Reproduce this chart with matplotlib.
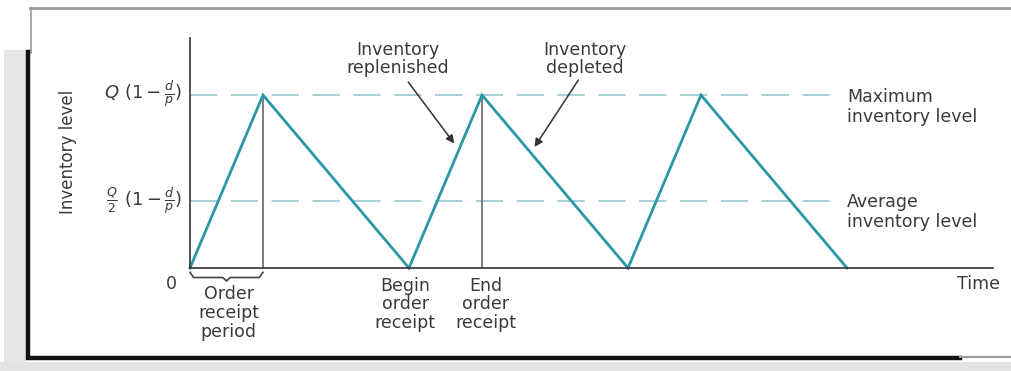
import matplotlib.pyplot as plt
from matplotlib.lines import Line2D
from matplotlib.patches import Rectangle

plt.rcParams['font.family'] = ['DejaVu Sans']

# inventory level over time (production rise, then depletion)
times = [0, 1, 3, 4, 6, 7, 9]
levels = [0, 1, 0, 1, 0, 1, 0]
max_level = 1.0
avg_level = 0.39
receipt_start = 3
receipt_end = 4
dash_end = 8.9

fig = plt.figure(figsize=(10.11, 3.71), dpi=100)

# frame decoration around the figure
W, H = 1011, 371
def fx(px): return px / W
def fy(py): return 1 - py / H
fig.add_artist(Rectangle((fx(4), 0), fx(22) - fx(0), fy(50), transform=fig.transFigure,
                         color='#e6e6e6', lw=0))
fig.add_artist(Rectangle((0, 0), 1, fy(362), transform=fig.transFigure,
                         color='#e3e3e3', lw=0))
fig.add_artist(Line2D([fx(30), 1], [fy(8), fy(8)], transform=fig.transFigure,
                      color='#9a9a9a', lw=2))
fig.add_artist(Line2D([fx(31), fx(31)], [fy(8), fy(53)], transform=fig.transFigure,
                      color='#9a9a9a', lw=1.2))
fig.add_artist(Line2D([fx(28), fx(28), fx(960)], [fy(52), fy(358), fy(358)],
                      transform=fig.transFigure, color='#111111', lw=3.2,
                      solid_joinstyle='miter'))
fig.add_artist(Line2D([fx(960), 1], [fy(357), fy(357)], transform=fig.transFigure,
                      color='#9a9a9a', lw=1.5))

ax = fig.add_axes([fx(190), fy(268), fx(993) - fx(190), (268 - 38) / H])
ax.set_xlim(0, 11)
ax.set_ylim(0, 1.33)
for s in ['top', 'right']:
    ax.spines[s].set_visible(False)
for s in ['left', 'bottom']:
    ax.spines[s].set_color('#333333')
    ax.spines[s].set_linewidth(1.2)
ax.set_xticks([])
ax.set_yticks([])

ax.plot([0, dash_end], [max_level, max_level], color='#a6cfd8', lw=1.4, dashes=(14, 7))
ax.plot([0, dash_end], [avg_level, avg_level], color='#a6cfd8', lw=1.4, dashes=(14, 7))

# vertical lines at end of receipt periods
for t in [times[1], receipt_end]:
    ax.plot([t, t], [0, max_level], color='#666666', lw=1.2)

ax.plot(times, levels, color='#2a97a6', lw=2, solid_joinstyle='miter', clip_on=False)

fs = 12.5
tc = '#3a3a3a'
ax.text(-1.67, 0.67, 'Inventory level', rotation=90, ha='center', va='center',
        fontsize=12, color=tc)
ax.text(-0.1, max_level, r'$Q\ (1-\frac{d}{p})$', ha='right', va='center',
        fontsize=13, color=tc)
ax.text(-0.1, avg_level, r'$\frac{Q}{2}\ (1-\frac{d}{p})$', ha='right', va='center',
        fontsize=13, color=tc)
ax.text(-0.25, -0.09, '0', ha='center', va='center', fontsize=fs, color=tc)

# brace under order receipt period
t0, t1 = times[0], times[1]
mid = (t0 + t1) / 2
ax.plot([t0, t0 + 0.05, mid - 0.05, mid, mid + 0.05, t1 - 0.05, t1],
        [-0.025, -0.055, -0.055, -0.075, -0.055, -0.055, -0.025],
        color='#444444', lw=1.2, clip_on=False)

ax.text(mid + 0.03, -0.26, 'Order\nreceipt\nperiod', ha='center', va='center',
        fontsize=fs, color=tc, linespacing=1.05)
ax.text(receipt_start - 0.05, -0.21, 'Begin\norder\nreceipt', ha='center', va='center',
        fontsize=fs, color=tc, linespacing=1.05)
ax.text(receipt_end + 0.05, -0.21, 'End\norder\nreceipt', ha='center', va='center',
        fontsize=fs, color=tc, linespacing=1.05)
ax.text(10.8, -0.09, 'Time', ha='center', va='center', fontsize=fs, color=tc)

ax.text(9.0, max_level - 0.07, 'Maximum\ninventory level', ha='left', va='center',
        fontsize=fs, color=tc, linespacing=1.15)
ax.text(9.0, avg_level - 0.065, 'Average\ninventory level', ha='left', va='center',
        fontsize=fs, color=tc, linespacing=1.15)

ax.text(2.85, 1.21, 'Inventory\nreplenished', ha='center', va='center',
        fontsize=fs, color=tc, linespacing=1.0)
ax.text(5.41, 1.21, 'Inventory\ndepleted', ha='center', va='center',
        fontsize=fs, color=tc, linespacing=1.0)
arrow = dict(arrowstyle='-|>', color='#333333', lw=1.1, mutation_scale=12,
             shrinkA=0, shrinkB=0)
ax.annotate('', xy=(3.62, 0.72), xytext=(2.99, 1.075), arrowprops=arrow)
ax.annotate('', xy=(4.72, 0.70), xytext=(5.32, 1.087), arrowprops=arrow)

fig.savefig('out.png', dpi=100)
